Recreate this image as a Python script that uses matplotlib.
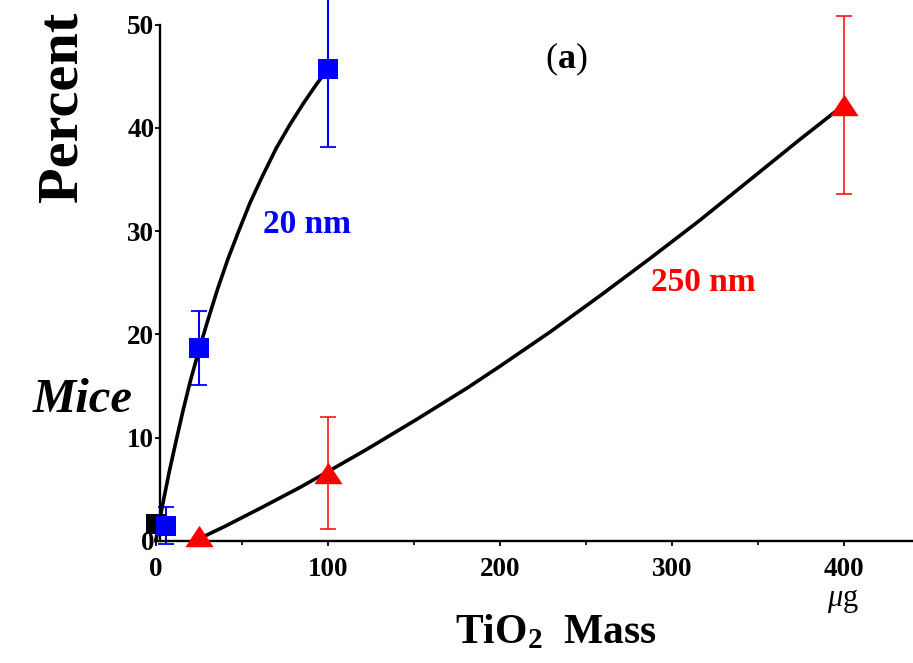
import matplotlib
matplotlib.use("Agg")
import matplotlib.pyplot as plt

plt.rcParams['font.family'] = ['Liberation Serif', 'DejaVu Serif']
plt.rcParams['mathtext.fontset'] = 'custom'
plt.rcParams['mathtext.rm'] = 'Liberation Serif'
plt.rcParams['mathtext.it'] = 'Liberation Serif:italic'
plt.rcParams['mathtext.bf'] = 'Liberation Serif:bold'

# Measured response (percent of mice) versus TiO2 dose in micrograms
dose_20nm = [6.25, 25, 100]
pct_20nm = [1.5, 18.7, 45.7]
err_20nm = [1.75, 3.6, 7.6]

dose_250nm = [25, 100, 400]
pct_250nm = [0.5, 6.6, 42.2]
err_250nm = [0.0, 5.4, 8.6]

control_dose = [0]
control_pct = [1.6]

# Fitted dose-response curves
fit_x_20nm = [0, 4, 8, 12, 16, 20, 25, 30, 36, 42, 48, 55, 62, 70, 78, 86, 93, 100]
fit_y_20nm = [0, 3.5, 6.8, 9.8, 12.7, 15.4, 18.4, 21.2, 24.4, 27.3, 29.9, 32.8,
              35.3, 38.0, 40.3, 42.4, 44.1, 45.7]

fit_x_250nm = [25, 40, 60, 84, 101, 123, 152, 181, 200, 229, 258, 287, 316, 345, 374, 400]
fit_y_250nm = [0.2, 1.4, 3.1, 5.2, 6.8, 8.9, 11.8, 14.8, 16.9, 20.2, 23.7, 27.3,
               31.0, 34.9, 38.8, 42.2]

x_major = [0, 100, 200, 300, 400]
x_minor = [50, 150, 250, 350]
y_major = [0, 10, 20, 30, 40, 50]

W, H = 913, 663
fig = plt.figure(figsize=(W / 100, H / 100), dpi=100)
ax = fig.add_axes([155.7 / W, 1 - 541 / H, (W - 155.7) / W, (541 - 24.5) / H])
ax.set_xlim(0, 440.3)
ax.set_ylim(0, 50)

BLUE = '#0000ff'
RED = '#ff0000'

# error bars
ax.errorbar(dose_20nm, pct_20nm, yerr=err_20nm, fmt='none', ecolor=BLUE,
            elinewidth=1.5, capsize=5.5, capthick=1.3, clip_on=False, zorder=2)
ex = [d for d, e in zip(dose_250nm, err_250nm) if e > 0]
ey = [p for p, e in zip(pct_250nm, err_250nm) if e > 0]
ee = [e for e in err_250nm if e > 0]
ax.errorbar(ex, ey, yerr=ee, fmt='none', ecolor=RED,
            elinewidth=1.1, capsize=6, capthick=1.1, clip_on=False, zorder=2)

# fitted curves
ax.plot(fit_x_20nm, fit_y_20nm, color='black', lw=2.6, zorder=3,
        solid_capstyle='round', solid_joinstyle='round', clip_on=False)
ax.plot(fit_x_250nm, fit_y_250nm, color='black', lw=2.6, zorder=3,
        solid_capstyle='round', solid_joinstyle='round', clip_on=False)

# markers
ax.plot(control_dose, control_pct, 's', color='black', ms=14, mew=0,
        clip_on=False, zorder=4)
ax.plot(dose_20nm, pct_20nm, 's', color=BLUE, ms=14, mew=0,
        clip_on=False, zorder=5)
tri = [(-1, -0.76), (1, -0.76), (0, 0.76)]
ax.plot(dose_250nm, pct_250nm, linestyle='none', marker=tri, color=RED,
        ms=20.3, mew=0, clip_on=False, zorder=5)

# axes styling
for s in ('top', 'right'):
    ax.spines[s].set_visible(False)
ax.spines['left'].set_position(('data', 2.5))
ax.spines['left'].set_linewidth(1.7)
ax.spines['bottom'].set_linewidth(1.7)
ax.set_xticks(x_major)
ax.set_xticks(x_minor, minor=True)
ax.set_yticks(y_major)
ax.set_xticklabels([str(v) for v in x_major])
ax.set_yticklabels([str(v) for v in y_major])
ax.tick_params(axis='x', which='major', direction='out', length=3.8, width=1.3,
               labelsize=19.5, pad=8)
ax.tick_params(axis='x', which='minor', direction='out', length=3.0, width=1.2)
ax.tick_params(axis='y', which='major', direction='out', length=3.8, width=1.3,
               labelsize=19.5, pad=0.3)
for lab in ax.get_xticklabels() + ax.get_yticklabels():
    lab.set_fontweight('bold')

# in-plot annotations
ax.text(88, 30.6, '20 nm', color=BLUE, fontsize=24, fontweight='bold',
        ha='center', va='center')
ax.text(318.5, 25.0, '250 nm', color=RED, fontsize=24, fontweight='bold',
        ha='center', va='center')
ax.text(238.5, 46.6, r'($\mathbf{a}$)', fontsize=26, ha='center', va='center')


def fpos(x, y):
    return x / W, 1 - y / H


fig.text(*fpos(63, 107), 'Percent', rotation=90, fontsize=42, fontweight='bold',
         ha='center', va='center')
fig.text(*fpos(82.5, 400), 'Mice', fontsize=35, fontweight='bold', style='italic',
         ha='center', va='center')
fig.text(*fpos(556, 643), r'TiO$_{\mathbf{2}}$  Mass', fontsize=30, fontweight='bold',
         ha='center', va='baseline')
fig.text(*fpos(843, 606), r'$\mu$g', fontsize=22, ha='center', va='baseline')

fig.savefig('out.png', dpi=100)
